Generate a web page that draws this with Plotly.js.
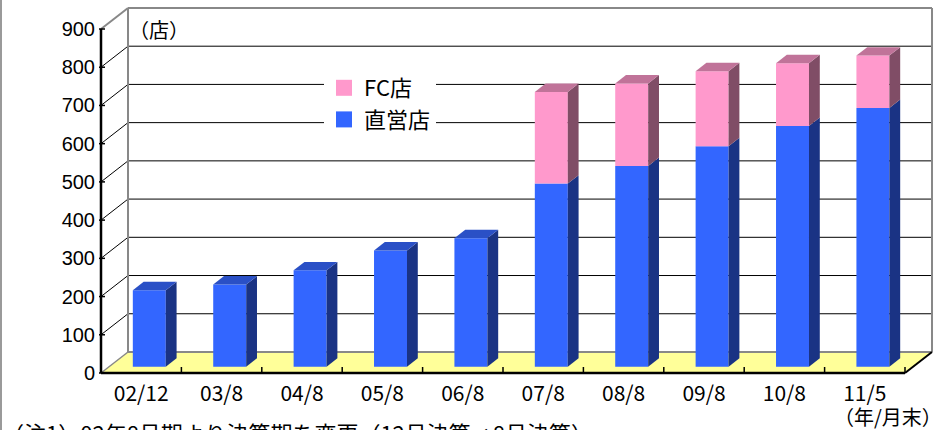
<!DOCTYPE html>
<html>
<head>
<meta charset="utf-8">
<script src="https://cdn.plot.ly/plotly-3.0.1.min.js"></script>
<style>
  html, body { margin: 0; padding: 0; background: #ffffff; }
  #chart { width: 950px; height: 430px; }
</style>
</head>
<body>
<div id="chart"></div>
<script>
// ---- data ----
const categories = ['02/12', '03/8', '04/8', '05/8', '06/8', '07/8', '08/8', '09/8', '10/8', '11/5'];
const directStores = [200, 215, 252, 304, 336, 479, 525, 577, 630, 677];   // 直営店
const fcStores = [0, 0, 0, 0, 0, 240, 216, 196, 164, 137];                 // FC店
const yTicks = [0, 100, 200, 300, 400, 500, 600, 700, 800, 900];
const yTickLabels = ['0', '100', '200', '300', '400', '500', '600', '700', '800', '900'];
const seriesNames = ['FC店', '直営店'];

// ---- style / geometry constants ----
const DEPTH_X = 0.336;   // depth of the 3D box, in category units
const DEPTH_Y = 55;      // depth of the 3D box, in value units
const BAR_FRONT = 0.3;   // bar front plane as fraction of depth
const BAR_BACK = 0.7;    // bar back plane as fraction of depth
const BAR_W = 0.41;
const YMAX = yTicks[yTicks.length - 1];
const N = categories.length;

const C = {
  blueFront: '#3366FF', blueSide: '#1A3384', blueTop: '#2A50C6',
  pinkFront: '#FF99CC', pinkSide: '#804D66', pinkTop: '#C07399',
  floor: '#FFFF99', wall: '#888888', grid: '#000000'
};

// plot area in pixels
const L = 96, R = 14, T = 4, B = 54, W = 950 - L - R, H = 430 - T - B;
const PX_PER_X = 80.4, PX_PER_Y = 344 / 900;
const xMin = -0.5 - 5 / PX_PER_X, xMax = xMin + W / PX_PER_X;
const yMin = -3 / PX_PER_Y, yMax = yMin + H / PX_PER_Y;
const fx = px => (px - L) / W;
const fy = py => (T + H - py) / H;

const idx = categories.map((_, i) => i);
const xBar = idx.map(i => i + BAR_FRONT * DEPTH_X);
const base0 = BAR_FRONT * DEPTH_Y;
const ddx = (BAR_BACK - BAR_FRONT) * DEPTH_X;
const ddy = (BAR_BACK - BAR_FRONT) * DEPTH_Y;

function path(pts) {
  return 'M' + pts.map(p => p[0] + ',' + p[1]).join('L') + 'Z';
}
function line(x0, y0, x1, y1, color, width, layer) {
  return { type: 'line', xref: 'x', yref: 'y', x0, y0, x1, y1, layer: layer || 'below',
           line: { color, width } };
}

const shapes = [];
const xL = -0.5, xR = N - 0.5;

// floor
shapes.push({ type: 'path', xref: 'x', yref: 'y', layer: 'below',
  path: path([[xL, 0], [xR, 0], [xR + DEPTH_X, DEPTH_Y], [xL + DEPTH_X, DEPTH_Y]]),
  fillcolor: C.floor, line: { width: 0 } });

// back wall grid lines and side wall diagonals
yTicks.forEach(v => {
  if (v > 0 && v < YMAX) {
    shapes.push(line(xL + DEPTH_X, v + DEPTH_Y, xR + DEPTH_X, v + DEPTH_Y, C.grid, 1));
    shapes.push(line(xL, v, xL + DEPTH_X, v + DEPTH_Y, C.grid, 1));
  }
});
// wall outline
shapes.push(line(xL + DEPTH_X, DEPTH_Y, xL + DEPTH_X, YMAX + DEPTH_Y, C.wall, 2));
shapes.push(line(xR + DEPTH_X, DEPTH_Y, xR + DEPTH_X, YMAX + DEPTH_Y, C.wall, 2));
shapes.push(line(xL + DEPTH_X, YMAX + DEPTH_Y, xR + DEPTH_X, YMAX + DEPTH_Y, C.wall, 2));
shapes.push(line(xL, YMAX, xL + DEPTH_X, YMAX + DEPTH_Y, C.wall, 2));
shapes.push(line(xL + DEPTH_X, DEPTH_Y, xR + DEPTH_X, DEPTH_Y, C.wall, 2));
shapes.push(line(xL, 0, xL + DEPTH_X, DEPTH_Y, C.wall, 1.5));
// floor front and right edges, front value axis
shapes.push(line(xR, 0, xR + DEPTH_X, DEPTH_Y, '#000000', 2));
shapes.push(line(xL, 0, xR, 0, '#000000', 2.5));
shapes.push(line(xL, 0, xL, YMAX, '#000000', 2.5));
// value-axis ticks
yTicks.forEach(v => shapes.push(line(xL - 2 / PX_PER_X, v, xL + 4 / PX_PER_X, v, '#000000', 1.5)));
// category separator ticks
idx.forEach(i => shapes.push(line(i + 0.5, 0, i + 0.5, 6 / PX_PER_Y, '#000000', 1.5)));

// 3D faces of bars
idx.forEach(i => {
  const xr = xBar[i] + BAR_W / 2, xl = xBar[i] - BAR_W / 2;
  const segs = [
    { b: base0, t: base0 + directStores[i], side: C.blueSide, top: C.blueTop },
    { b: base0 + directStores[i], t: base0 + directStores[i] + fcStores[i], side: C.pinkSide, top: C.pinkTop }
  ].filter(s => s.t > s.b);
  segs.forEach(s => {
    shapes.push({ type: 'path', xref: 'x', yref: 'y', layer: 'above',
      path: path([[xr, s.b], [xr + ddx, s.b + ddy], [xr + ddx, s.t + ddy], [xr, s.t]]),
      fillcolor: s.side, line: { width: 0 } });
  });
  const topSeg = segs[segs.length - 1];
  shapes.push({ type: 'path', xref: 'x', yref: 'y', layer: 'above',
    path: path([[xl, topSeg.t], [xl + ddx, topSeg.t + ddy], [xr + ddx, topSeg.t + ddy], [xr, topSeg.t]]),
    fillcolor: topSeg.top, line: { width: 0 } });
});

// left border of the picture
shapes.push({ type: 'line', xref: 'paper', yref: 'paper', x0: fx(1), x1: fx(1), y0: fy(0), y1: fy(430),
  line: { color: '#9a9a9a', width: 2 } });

const traces = [
  { type: 'bar', x: xBar, y: directStores, base: xBar.map(() => base0), width: BAR_W,
    marker: { color: C.blueFront, line: { width: 0 } }, showlegend: false, hoverinfo: 'skip' },
  { type: 'bar', x: xBar, y: fcStores, base: directStores.map(v => base0 + v), width: BAR_W,
    marker: { color: C.pinkFront, line: { width: 0 } }, showlegend: false, hoverinfo: 'skip' },
  { type: 'scatter', mode: 'markers', x: [null], y: [null], name: seriesNames[0], legendgroup: 'a',
    marker: { symbol: 'square', size: 16, color: C.pinkFront } },
  { type: 'scatter', mode: 'markers', x: [null], y: [null], name: seriesNames[1], legendgroup: 'b',
    marker: { symbol: 'square', size: 16, color: C.blueFront } }
];

const jp = '"Noto Sans CJK JP", "Noto Sans", sans-serif';

const layout = {
  width: 950, height: 430,
  margin: { l: L, r: R, t: T, b: B, pad: 0 },
  paper_bgcolor: '#ffffff', plot_bgcolor: 'rgba(0,0,0,0)',
  barmode: 'overlay',
  showlegend: true,
  legend: { x: fx(324), y: fy(67), xanchor: 'left', yanchor: 'top', bgcolor: '#ffffff',
            borderwidth: 0, tracegroupgap: 5, traceorder: 'normal',
            font: { family: jp, size: 22, color: '#000000' } },
  xaxis: { range: [xMin, xMax], tickmode: 'array', tickvals: idx, ticktext: categories,
           showgrid: false, zeroline: false, showline: false, ticks: '', ticklabelstandoff: 3,
           tickfont: { family: jp, size: 21, color: '#000000' }, fixedrange: true },
  yaxis: { range: [yMin, yMax], tickmode: 'array', tickvals: yTicks, ticktext: yTickLabels,
           showgrid: false, zeroline: false, showline: false, ticks: '', ticklabelstandoff: 0,
           tickfont: { family: 'Liberation Sans, Arial, sans-serif', size: 20, color: '#000000' },
           fixedrange: true },
  shapes: shapes,
  annotations: [
    { xref: 'paper', yref: 'paper', x: fx(127), y: fy(29), xanchor: 'left', yanchor: 'middle',
      text: '（店）', showarrow: false, font: { family: jp, size: 20, color: '#000000' } },
    { xref: 'paper', yref: 'paper', x: fx(888), y: fy(417), xanchor: 'center', yanchor: 'middle',
      borderpad: 0, text: '（年/月末）', showarrow: false, font: { family: jp, size: 20, color: '#000000' } },
    { xref: 'paper', yref: 'paper', x: fx(0), y: fy(432), xanchor: 'left', yanchor: 'middle',
      text: '（注1）02年8月期より決算期を変更（12月決算→8月決算）', showarrow: false,
      font: { family: jp, size: 22, color: '#000000' } }
  ]
};

Plotly.newPlot('chart', traces, layout, { displayModeBar: false, staticPlot: true });
</script>
</body>
</html>
